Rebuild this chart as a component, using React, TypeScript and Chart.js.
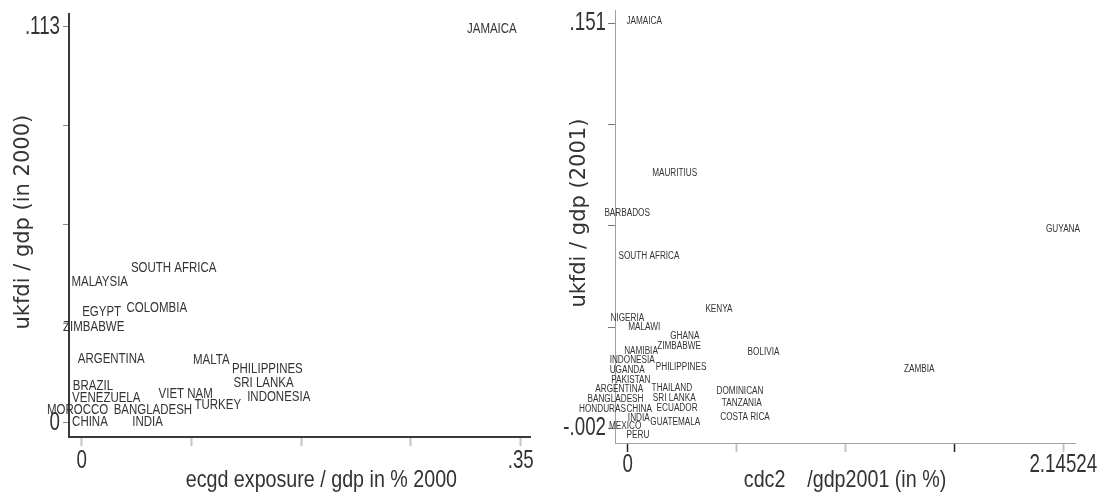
import React, { useEffect, useRef } from 'react';
import { Chart, registerables } from 'chart.js';

Chart.register(...registerables);

// Arial-Narrow-like look: Liberation Sans drawn horizontally condensed
const NARROW = '"Liberation Sans", Arial, sans-serif';      // titles & point labels
const NARROW_TICK = '"Liberation Sans", sans-serif';       // tick labels (more condensed)
const WIDE = '"DejaVu Sans", sans-serif';

// ---------- Left panel data (2000) ----------
const leftCountries = ['JAMAICA', 'SOUTH AFRICA', 'MALAYSIA', 'EGYPT', 'COLOMBIA', 'ZIMBABWE', 'ARGENTINA', 'MALTA', 'PHILIPPINES', 'SRI LANKA', 'INDONESIA', 'BRAZIL', 'VENEZUELA', 'VIET NAM', 'MOROCCO', 'BANGLADESH', 'TURKEY', 'CHINA', 'INDIA'];
const leftExposure = [0.327, 0.0733, 0.0144, 0.0159, 0.0599, 0.0096, 0.0236, 0.1033, 0.148, 0.145, 0.1571, 0.009, 0.0196, 0.0829, -0.0032, 0.0568, 0.1085, 0.0066, 0.0525];
const leftFdi = [0.1124, 0.0441, 0.0401, 0.0316, 0.0327, 0.0273, 0.0183, 0.0178, 0.0155, 0.0113, 0.0075, 0.0106, 0.007, 0.0083, 0.0037, 0.0037, 0.005, 0.0001, 0.0001];
const leftXTicks = [0, 0.0875, 0.175, 0.2625, 0.35];
const leftXTickLabels = ['0', '', '', '', '.35'];
const leftYTicks = [0, 0.02825, 0.0565, 0.08475, 0.113];
const leftYTickLabels = ['0', '', '', '', '.113'];

// ---------- Right panel data (2001) ----------
const rightCountries = ['JAMAICA', 'MAURITIUS', 'BARBADOS', 'SOUTH AFRICA', 'GUYANA', 'KENYA', 'NIGERIA', 'MALAWI', 'GHANA', 'ZIMBABWE', 'NAMIBIA', 'BOLIVIA', 'INDONESIA', 'PHILIPPINES', 'ZAMBIA', 'UGANDA', 'PAKISTAN', 'ARGENTINA', 'THAILAND', 'DOMINICAN', 'SRI LANKA', 'BANGLADESH', 'TANZANIA', 'HONDURAS', 'CHINA', 'ECUADOR', 'COSTA RICA', 'INDIA', 'GUATEMALA', 'MEXICO', 'PERU'];
const rightCdc = [0.0815, 0.2315, -0.0025, 0.1049, 2.1438, 0.4496, -0.002, 0.0813, 0.2813, 0.2531, 0.0655, 0.6688, 0.0222, 0.263, 1.4356, -0.0025, 0.0153, -0.0419, 0.2177, 0.5531, 0.2291, -0.0601, 0.562, -0.1241, 0.0566, 0.2433, 0.5778, 0.0547, 0.2345, -0.0123, 0.0507];
const rightFdi = [0.1518, 0.0944, 0.0792, 0.0631, 0.0732, 0.0431, 0.0396, 0.0362, 0.0329, 0.0289, 0.027, 0.0266, 0.0238, 0.0211, 0.0203, 0.02, 0.0162, 0.0128, 0.0133, 0.0121, 0.0095, 0.0091, 0.0075, 0.0053, 0.0053, 0.0057, 0.0024, 0.0018, 0.0002, -0.0011, -0.0046];
const rightXTicks = [0, 0.53631, 1.07262, 1.60893, 2.14524];
const rightXTickLabels = ['0', '', '', '', '2.14524'];
const rightYTicks = [-0.002, 0.03625, 0.0745, 0.11275, 0.151];
const rightYTickLabels = ['-.002', '', '', '', '.151'];

type PanelSpec = {
  labels: string[];
  xs: number[];
  ys: number[];
  labelFont: string;
  padding: { left: number; top: number; right: number; bottom: number };
  xMin: number; xMax: number; yMin: number; yMax: number;
  xTicks: number[]; xTickLabels: string[];
  yTicks: number[]; yTickLabels: string[];
  xHeight: number; yWidth: number;
  xTickLen: number; yTickLen: number;
  xTickColor: (i: number) => string;
  xTickWidth: (i: number) => number;
  yTickColor: string;
  borderColor: string; borderWidth: number;
  xTitle: string; yTitle: string;
  yTitleSize: number; yTitlePad: number;
  xTickPad: number; yTickPad: number;
};

function condenseContext(ctx: any) {
  if (ctx.__condensed) return;
  ctx.__condensed = true;
  const orig = ctx.fillText.bind(ctx);
  ctx.fillText = function (text: string, x: number, y: number, maxWidth?: number) {
    const f = String(ctx.font);
    if (/Liberation Sans/.test(f)) {
      const k = /Arial/.test(f) ? 0.82 : 0.75;
      ctx.save();
      ctx.translate(x, y);
      ctx.scale(k, 1);
      if (maxWidth !== undefined && maxWidth !== null) orig(text, 0, 0, maxWidth / k);
      else orig(text, 0, 0);
      ctx.restore();
    } else if (maxWidth !== undefined && maxWidth !== null) {
      orig(text, x, y, maxWidth);
    } else {
      orig(text, x, y);
    }
  };
}

function buildConfig(p: PanelSpec): any {
  const labelPlugin = {
    id: 'countryLabels',
    afterDatasetsDraw(chart: any) {
      const meta = chart.getDatasetMeta(0);
      const ctx = chart.ctx;
      ctx.save();
      ctx.font = p.labelFont;
      ctx.fillStyle = '#333';
      ctx.textAlign = 'center';
      ctx.textBaseline = 'middle';
      meta.data.forEach((el: any, i: number) => {
        ctx.fillText(p.labels[i], el.x, el.y);
      });
      ctx.restore();
    },
  };
  return {
    type: 'scatter',
    data: {
      datasets: [
        {
          data: p.xs.map((v, i) => ({ x: v, y: p.ys[i] })),
          pointRadius: 0,
          pointHoverRadius: 0,
          showLine: false,
        },
      ],
    },
    options: {
      animation: false,
      responsive: false,
      events: [],
      layout: { padding: p.padding },
      plugins: { legend: { display: false }, tooltip: { enabled: false } },
      scales: {
        x: {
          type: 'linear',
          position: 'bottom',
          min: p.xMin,
          max: p.xMax,
          afterBuildTicks: (s: any) => {
            s.ticks = p.xTicks.map((v) => ({ value: v }));
          },
          afterFit: (s: any) => {
            s.height = p.xHeight;
            s.paddingLeft = 0; s.paddingRight = 0; s.paddingTop = 0; s.paddingBottom = 0;
          },
          ticks: {
            autoSkip: false,
            maxRotation: 0,
            minRotation: 0,
            padding: p.xTickPad,
            color: '#333',
            font: { family: NARROW_TICK, size: 25 },
            callback: (_v: any, i: number) => p.xTickLabels[i],
          },
          grid: {
            drawOnChartArea: false,
            drawTicks: true,
            tickLength: p.xTickLen,
            tickColor: (c: any) => p.xTickColor(c.index),
            tickWidth: (c: any) => p.xTickWidth(c.index),
          },
          border: { display: true, color: p.borderColor, width: p.borderWidth },
          title: {
            display: true,
            text: p.xTitle,
            color: '#333',
            font: { family: NARROW, size: 24 },
            padding: { top: 0, bottom: -2 },
          },
        },
        y: {
          type: 'linear',
          position: 'left',
          min: p.yMin,
          max: p.yMax,
          afterBuildTicks: (s: any) => {
            s.ticks = p.yTicks.map((v) => ({ value: v }));
          },
          afterFit: (s: any) => {
            s.width = p.yWidth;
            s.paddingLeft = 0; s.paddingRight = 0; s.paddingTop = 0; s.paddingBottom = 0;
          },
          ticks: {
            autoSkip: false,
            padding: p.yTickPad,
            color: '#333',
            font: { family: NARROW_TICK, size: 25 },
            callback: (_v: any, i: number) => p.yTickLabels[i],
          },
          grid: {
            drawOnChartArea: false,
            drawTicks: true,
            tickLength: p.yTickLen,
            tickColor: p.yTickColor,
            tickWidth: 1,
          },
          border: { display: true, color: p.borderColor, width: p.borderWidth },
          title: {
            display: true,
            text: p.yTitle,
            color: '#333',
            font: { family: WIDE, size: p.yTitleSize },
            padding: { top: p.yTitlePad, bottom: 0 },
          },
        },
      },
    },
    plugins: [labelPlugin],
  };
}

const leftSpec: PanelSpec = {
  labels: leftCountries,
  xs: leftExposure,
  ys: leftFdi,
  labelFont: `14px ${NARROW}`,
  padding: { left: 0, top: 14, right: 20, bottom: 0 },
  xMin: -0.0101, xMax: 0.3574, yMin: -0.004, yMax: 0.1167,
  xTicks: leftXTicks, xTickLabels: leftXTickLabels,
  yTicks: leftYTicks, yTickLabels: leftYTickLabels,
  xHeight: 56, yWidth: 69,
  xTickLen: 9, yTickLen: 6,
  xTickColor: () => '#c4c4c4',
  xTickWidth: () => 2,
  yTickColor: '#888',
  borderColor: '#3a3a3a', borderWidth: 2,
  xTitle: '        ecgd exposure / gdp in % 2000',
  yTitle: ' ukfdi / gdp (in 2000)',
  yTitleSize: 21, yTitlePad: 11,
  xTickPad: 0, yTickPad: 3,
};

const rightSpec: PanelSpec = {
  labels: rightCountries,
  xs: rightCdc,
  ys: rightFdi,
  labelFont: `10px ${NARROW}`,
  padding: { left: 0, top: 10, right: 23, bottom: 0 },
  xMin: -0.0625, xMax: 2.2029, yMin: -0.0075, yMax: 0.156,
  xTicks: rightXTicks, xTickLabels: rightXTickLabels,
  yTicks: rightYTicks, yTickLabels: rightYTickLabels,
  xHeight: 50, yWidth: 65,
  xTickLen: 9, yTickLen: 7,
  xTickColor: (i) => (i === 0 || i === 3 ? '#222' : '#c4c4c4'),
  xTickWidth: (i) => (i === 0 || i === 3 ? 1.5 : 2),
  yTickColor: '#777',
  borderColor: '#a0a0a0', borderWidth: 1,
  xTitle: 'cdc2    /gdp2001 (in %)',
  yTitle: '    ukfdi / gdp (2001)',
  yTitleSize: 21, yTitlePad: 17,
  xTickPad: -2, yTickPad: 2,
};

function Panel({ spec, left, width }: { spec: PanelSpec; left: number; width: number }) {
  const ref = useRef<HTMLCanvasElement | null>(null);
  useEffect(() => {
    const canvas = ref.current;
    if (!canvas) return;
    condenseContext(canvas.getContext('2d'));
    const chart = new Chart(canvas, buildConfig(spec));
    return () => chart.destroy();
  }, [spec]);
  return (
    <canvas
      ref={ref}
      width={width}
      height={493}
      style={{ position: 'absolute', left, top: 0, width, height: 493 }}
    />
  );
}

export default function App() {
  return (
    <div style={{ position: 'absolute', left: 0, top: 0, width: 1098, height: 493, background: '#fff', overflow: 'hidden' }}>
      <Panel spec={leftSpec} left={0} width={550} />
      <Panel spec={rightSpec} left={550} width={548} />
    </div>
  );
}
